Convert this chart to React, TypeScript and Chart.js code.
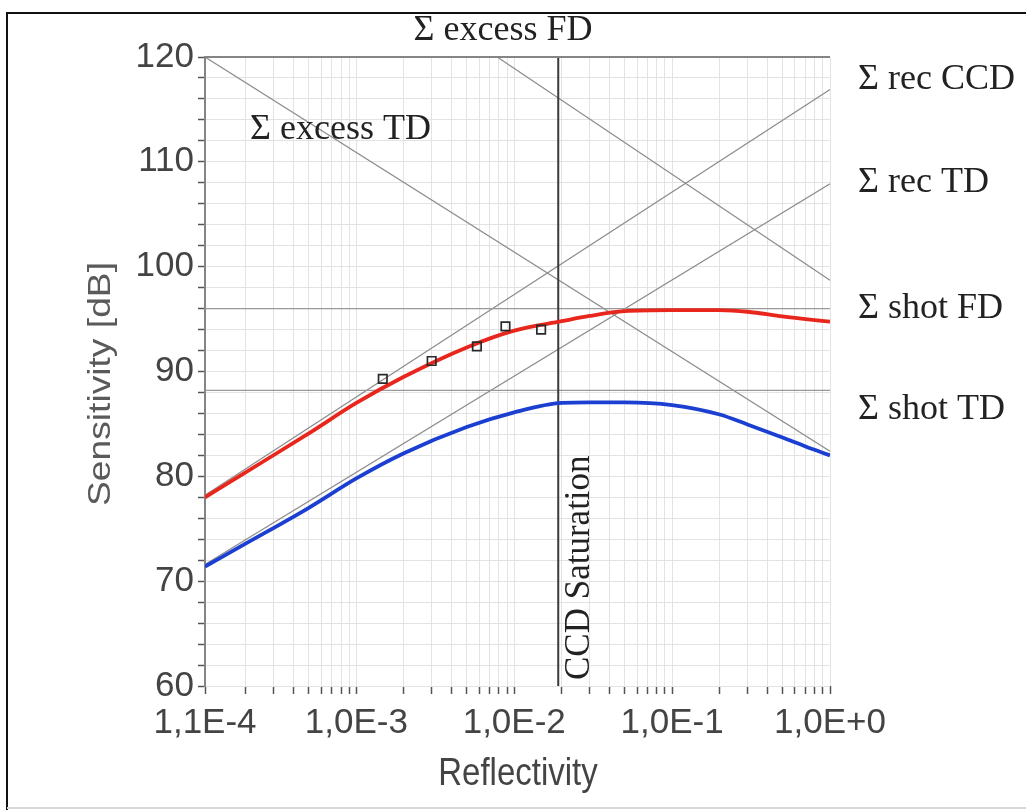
import React, { useEffect, useRef } from 'react';
import { Chart, registerables } from 'chart.js';

Chart.register(...registerables);

// ---------- axes ----------
const X_MIN = 1.1e-4;
const X_MAX = 1;
const Y_MIN = 60;
const Y_MAX = 120;
const Y_MINOR_STEP = 2;
const Y_LABEL_STEP = 10;

const X_MAJOR_TICKS = [1.1e-4, 1e-3, 1e-2, 1e-1, 1];
const X_MAJOR_LABELS = ['1,1E-4', '1,0E-3', '1,0E-2', '1,0E-1', '1,0E+0'];
const X_DECADES = [1e-4, 1e-3, 1e-2, 1e-1];
const X_MINOR_MANTISSAS = [2, 3, 4, 5, 6, 7, 8, 9];

// ---------- total sensitivity curves ----------
const CURVE_X = [1.1e-4, 2e-4, 5e-4, 1e-3, 2e-3, 5e-3, 1e-2, 2e-2, 3e-2, 5e-2, 0.1, 0.2, 0.3, 0.5, 0.7, 1];
const FD_TOTAL = [78.0, 80.4, 84.1, 87.0, 89.5, 92.3, 93.9, 94.8, 95.3, 95.75, 95.85, 95.85, 95.7, 95.25, 95.0, 94.75];
const TD_TOTAL = [71.4, 73.6, 77.0, 79.8, 82.2, 84.7, 86.1, 87.0, 87.05, 87.05, 86.8, 85.9, 84.95, 83.7, 82.85, 82.0];

// ---------- measured points ----------
const MEAS_X = [1.47e-3, 3.0e-3, 5.8e-3, 8.8e-3, 1.48e-2];
const MEAS_Y = [89.3, 91.0, 92.4, 94.3, 94.0];

// ---------- noise limit lines (start x, start y, end x, end y) ----------
const SHOT_FD = [1.1e-4, 96.0, 1, 96.0];
const SHOT_TD = [1.1e-4, 88.2, 1, 88.2];
const EXCESS_TD = [1.1e-4, 120.0, 1, 82.4];
const EXCESS_FD = [7.8e-3, 120.0, 1, 98.7];
const REC_CCD = [1.1e-4, 78.2, 1, 116.9];
const REC_TD = [1.1e-4, 71.6, 1, 107.9];
const CCD_SATURATION = [0.019, 60, 0.019, 120];

const SANS = '"Liberation Sans", Arial, sans-serif';
const SERIF = '"Liberation Serif", "Times New Roman", serif';

function seg(s: number[]) {
  return [
    { x: s[0], y: s[1] },
    { x: s[2], y: s[3] },
  ];
}

function xTickValues() {
  const vals: number[] = [X_MIN];
  X_DECADES.forEach((d, i) => {
    if (i > 0) vals.push(d);
    X_MINOR_MANTISSAS.forEach((m) => {
      const v = m * d;
      if (v > X_MIN && v < X_MAX) vals.push(v);
    });
  });
  vals.push(X_MAX);
  return vals;
}

const decorPlugin = {
  id: 'decor',
  beforeDraw(chart: any) {
    const ctx = chart.ctx;
    ctx.save();
    ctx.fillStyle = '#ffffff';
    ctx.fillRect(0, 0, chart.width, chart.height);
    // outer frame
    ctx.strokeStyle = '#111';
    ctx.lineWidth = 2;
    ctx.beginPath();
    ctx.moveTo(7, 810);
    ctx.lineTo(7, 13);
    ctx.lineTo(1026, 13);
    ctx.stroke();
    ctx.strokeStyle = '#d8d8d8';
    ctx.beginPath();
    ctx.moveTo(7, 808);
    ctx.lineTo(1026, 808);
    ctx.stroke();
    ctx.restore();
  },
  afterDraw(chart: any) {
    const ctx = chart.ctx;
    const a = chart.chartArea;
    ctx.save();
    // top frame line of the plot
    ctx.strokeStyle = '#858585';
    ctx.lineWidth = 2;
    ctx.beginPath();
    ctx.moveTo(a.left, a.top);
    ctx.lineTo(a.right, a.top);
    ctx.stroke();

    // annotations
    ctx.fillStyle = '#222';
    ctx.font = `36px ${SERIF}`;
    ctx.textBaseline = 'middle';
    ctx.textAlign = 'center';
    ctx.fillText('Σ excess FD', 503, 31);
    ctx.textAlign = 'left';
    ctx.fillText('Σ excess TD', 250, 130);
    ctx.fillText('Σ rec CCD', 858, 80);
    ctx.fillText('Σ rec TD', 858, 183);
    ctx.fillText('Σ shot FD', 858, 309);
    ctx.fillText('Σ shot TD', 858, 410);

    ctx.save();
    ctx.translate(580, 680);
    ctx.rotate(-Math.PI / 2);
    ctx.font = `35px ${SERIF}`;
    ctx.textAlign = 'left';
    ctx.fillText('CCD Saturation', 0, 0);
    ctx.restore();

    // axis titles
    ctx.save();
    ctx.translate(101, 384);
    ctx.rotate(-Math.PI / 2);
    ctx.scale(1.2, 1);
    ctx.font = `31px ${SANS}`;
    ctx.fillStyle = '#5a5a5a';
    ctx.textAlign = 'center';
    ctx.fillText('Sensitivity [dB]', 0, 0);
    ctx.restore();

    ctx.save();
    ctx.translate(518, 774);
    ctx.scale(1, 1.18);
    ctx.font = `33px ${SANS}`;
    ctx.fillStyle = '#444';
    ctx.textAlign = 'center';
    ctx.fillText('Reflectivity', 0, 0);
    ctx.restore();
    ctx.restore();
  },
};

export default function App() {
  const ref = useRef<HTMLCanvasElement>(null);

  useEffect(() => {
    if (!ref.current) return;
    const thin = '#8c8c8c';
    const lineDs = (data: any[], color: string, width: number, order: number) => ({
      type: 'line',
      data,
      borderColor: color,
      borderWidth: width,
      pointRadius: 0,
      tension: 0,
      fill: false,
      order,
    });

    const chart = new Chart(ref.current, {
      type: 'line',
      data: {
        datasets: [
          {
            type: 'line',
            data: MEAS_X.map((x, i) => ({ x, y: MEAS_Y[i] })),
            showLine: false,
            pointStyle: 'rect',
            pointRadius: 6,
            pointBorderColor: '#2a2a2a',
            pointBorderWidth: 1.7,
            pointBackgroundColor: 'rgba(0,0,0,0)',
            order: 0,
          },
          {
            ...lineDs(CURVE_X.map((x, i) => ({ x, y: FD_TOTAL[i] })), '#e8261c', 3.8, 1),
            cubicInterpolationMode: 'monotone',
          },
          {
            ...lineDs(CURVE_X.map((x, i) => ({ x, y: TD_TOTAL[i] })), '#1b3fd1', 3.8, 1),
            cubicInterpolationMode: 'monotone',
          },
          lineDs(seg(CCD_SATURATION), '#3a3a3a', 2, 2),
          lineDs(seg(SHOT_FD), '#999', 1.2, 3),
          lineDs(seg(SHOT_TD), '#999', 1.2, 3),
          lineDs(seg(EXCESS_TD), thin, 1.2, 3),
          lineDs(seg(EXCESS_FD), thin, 1.2, 3),
          lineDs(seg(REC_CCD), thin, 1.2, 3),
          lineDs(seg(REC_TD), thin, 1.2, 3),
        ] as any,
      },
      options: {
        responsive: false,
        animation: false,
        devicePixelRatio: 1,
        events: [],
        layout: { padding: { left: 0, top: 57, right: 196, bottom: 0 } },
        plugins: {
          legend: { display: false },
          tooltip: { enabled: false },
        },
        scales: {
          x: {
            type: 'logarithmic',
            min: X_MIN,
            max: X_MAX,
            afterBuildTicks: (s: any) => {
              s.ticks = xTickValues().map((v) => ({ value: v }));
            },
            afterFit: (s: any) => {
              s.height = 124;
            },
            ticks: {
              autoSkip: false,
              maxRotation: 0,
              minRotation: 0,
              padding: 8,
              color: '#444',
              font: { family: SANS, size: 35 },
              callback: (v: any) => {
                const i = X_MAJOR_TICKS.findIndex((m) => Math.abs(m - v) / m < 1e-6);
                return i >= 0 ? X_MAJOR_LABELS[i] : '';
              },
            },
            grid: {
              color: '#e3e3e3',
              lineWidth: 1,
              tickLength: 8,
              tickColor: '#555',
              tickWidth: 1.5,
            },
            border: { display: false },
          },
          y: {
            type: 'linear',
            min: Y_MIN,
            max: Y_MAX,
            afterFit: (s: any) => {
              s.width = 205;
            },
            ticks: {
              stepSize: Y_MINOR_STEP,
              autoSkip: false,
              padding: 4,
              color: '#444',
              font: { family: SANS, size: 35 },
              callback: (v: any) => (Number(v) % Y_LABEL_STEP === 0 ? String(v) : ''),
            },
            grid: {
              color: '#e3e3e3',
              lineWidth: 1,
              tickLength: 7,
              tickColor: '#555',
              tickWidth: 1.5,
            },
            border: { display: true, color: '#858585', width: 2 },
          },
        },
      } as any,
      plugins: [decorPlugin],
    });
    return () => chart.destroy();
  }, []);

  return (
    <div style={{ position: 'absolute', left: 0, top: 0, width: 1026, height: 810 }}>
      <canvas ref={ref} width={1026} height={810} />
    </div>
  );
}
